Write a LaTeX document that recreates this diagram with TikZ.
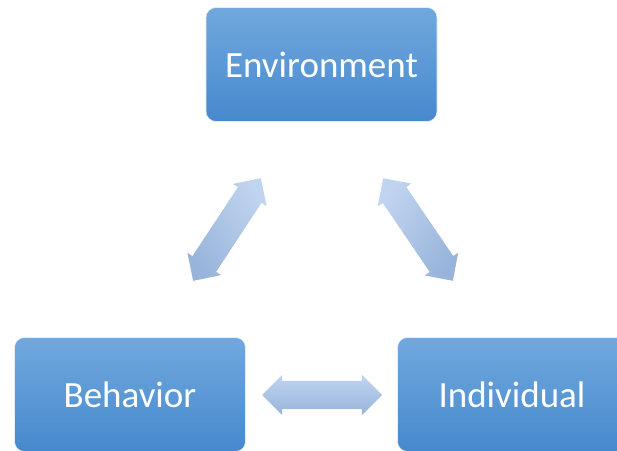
\documentclass[tikz,border=0pt]{standalone}
\usepackage{fontspec}
\setmainfont{Carlito}
\usetikzlibrary{shapes.arrows}
\definecolor{boxtop}{RGB}{113,168,222}
\definecolor{boxbot}{RGB}{70,137,205}
\definecolor{arrtop}{RGB}{192,212,240}
\definecolor{arrbot}{RGB}{152,180,218}
\tikzset{
  box/.style={rectangle, rounded corners=10pt, top color=boxtop, bottom color=boxbot,
    draw=white!80!boxtop, line width=0.6pt, minimum width=231pt, minimum height=114pt,
    inner sep=0pt, text=white, font=\fontsize{37}{44}\selectfont},
  blockarrow/.style={shape=double arrow, double arrow head extend=6pt, double arrow tip angle=90,
    inner xsep=0pt, inner ysep=14pt, draw=none, top color=arrtop, bottom color=arrbot}
}
\begin{document}
\begin{tikzpicture}[x=1pt,y=1pt]
\useasboundingbox (0,0) rectangle (617,450);
\clip (0,0) rectangle (617,450);
\node[box] (env) at (321.5,385.5) {Environment};
\node[box] (beh) at (130,55.5) {Behavior};
\node[box] (ind) at (513,55.5) {\hspace*{-1pt}Individual\hspace*{1pt}};
\node[blockarrow, minimum height=123pt, rotate=56.6, shading angle=-56.6] (a1) at (227,220.5) {};
\node[blockarrow, minimum height=124pt, rotate=-55.8, shading angle=55.8] (a2) at (418,220.5) {};
\node[blockarrow, minimum height=120pt] (a3) at (322,55) {};
\end{tikzpicture}
\end{document}
